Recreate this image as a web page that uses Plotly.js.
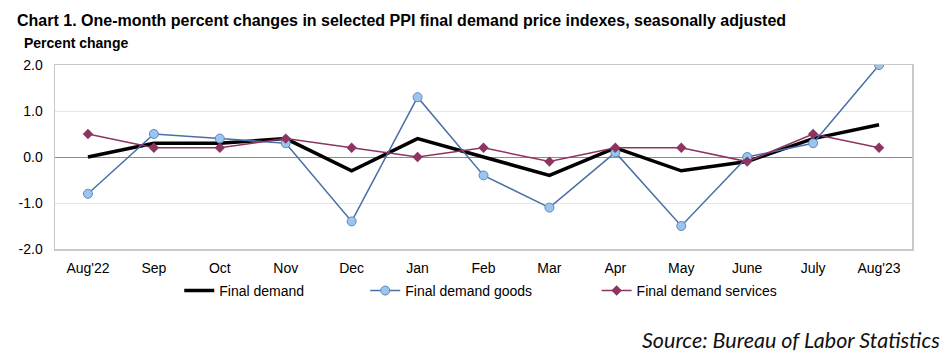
<!DOCTYPE html>
<html><head><meta charset="utf-8">
<script src="https://cdn.plot.ly/plotly-3.0.1.min.js"></script>
<style>body{margin:0;background:#fff}#c{width:947px;height:355px}</style>
</head><body><div id="c"></div>
<script>
const months = ["Aug'22","Sep","Oct","Nov","Dec","Jan","Feb","Mar","Apr","May","June","July","Aug'23"];
const finalDemand = [0.0,0.3,0.3,0.4,-0.3,0.4,0.0,-0.4,0.2,-0.3,-0.1,0.4,0.7];
const finalGoods = [-0.8,0.5,0.4,0.3,-1.4,1.3,-0.4,-1.1,0.1,-1.5,0.0,0.3,2.0];
const finalServices = [0.5,0.2,0.2,0.4,0.2,0.0,0.2,-0.1,0.2,0.2,-0.1,0.5,0.2];
const yTickVals = [-2,-1,0,1,2];
const yTickText = ["-2.0","-1.0","0.0","1.0","2.0"];

const traces = [
  {x: months, y: finalDemand, name: "Final demand", type: "scatter", mode: "lines",
   line: {color: "#000000", width: 3.5}, legend: "legend"},
  {x: months, y: finalGoods, name: "Final demand goods", type: "scatter", mode: "lines+markers",
   line: {color: "#4a6fa8", width: 1.5},
   marker: {symbol: "circle", size: 9, color: "#9cc5ec", line: {color: "#5b87c4", width: 1}},
   legend: "legend2"},
  {x: months, y: finalServices, name: "Final demand services", type: "scatter", mode: "lines+markers",
   line: {color: "#8e3462", width: 1.5},
   marker: {symbol: "diamond", size: 8, color: "#8e3462"}, legend: "legend3"}
];
const legBase = {orientation: "h", xanchor: "left", y: -0.228, yanchor: "middle",
                 font: {size: 14}, bgcolor: "rgba(0,0,0,0)"};
const layout = {
  width: 947, height: 355,
  margin: {l: 55, r: 35, t: 65, b: 106},
  paper_bgcolor: "#fff", plot_bgcolor: "#fff",
  font: {family: "Liberation Sans, Arial, sans-serif", size: 14, color: "#000"},
  showlegend: true,
  legend: Object.assign({}, legBase, {x: 0.145}),
  legend2: Object.assign({}, legBase, {x: 0.362}),
  legend3: Object.assign({}, legBase, {x: 0.632}),
  xaxis: {type: "category", range: [-0.5, 12.5], showgrid: false, zeroline: false,
          showline: true, mirror: true, linecolor: "#c8c8c8", linewidth: 1.5,
          ticks: "", ticklabelstandoff: 6, tickfont: {size: 14}, fixedrange: true},
  yaxis: {range: [-2, 2], tickvals: yTickVals, ticktext: yTickText,
          showgrid: true, gridcolor: "#e6e6e6", gridwidth: 1,
          zeroline: true, zerolinecolor: "#8c8c8c", zerolinewidth: 1,
          showline: true, mirror: true, linecolor: "#c8c8c8", linewidth: 1.5,
          ticks: "", ticklabelstandoff: 8, tickfont: {size: 14}, fixedrange: true},
  annotations: [
    {text: "<b>Chart 1. One-month percent changes in selected PPI final demand price indexes, seasonally adjusted</b>",
     xref: "paper", yref: "paper", x: -0.047, y: 1.0, yshift: 45, xanchor: "left", yanchor: "middle",
     showarrow: false, font: {size: 16, color: "#000"}},
    {text: "<b>Percent change</b>", xref: "paper", yref: "paper", x: -0.039, y: 1.0, yshift: 22,
     xanchor: "left", yanchor: "middle", showarrow: false, font: {size: 14, color: "#000"}},
    {text: "<i>Source: Bureau of Labor Statistics</i>", xref: "paper", yref: "paper",
     x: 1.035, y: 0, yshift: -91, xanchor: "right", yanchor: "middle", showarrow: false,
     font: {family: "Lato, Open Sans, sans-serif", size: 21.5, color: "#111"}}
  ]
};
Plotly.newPlot("c", traces, layout, {displayModeBar: false, staticPlot: true});
</script></body></html>
